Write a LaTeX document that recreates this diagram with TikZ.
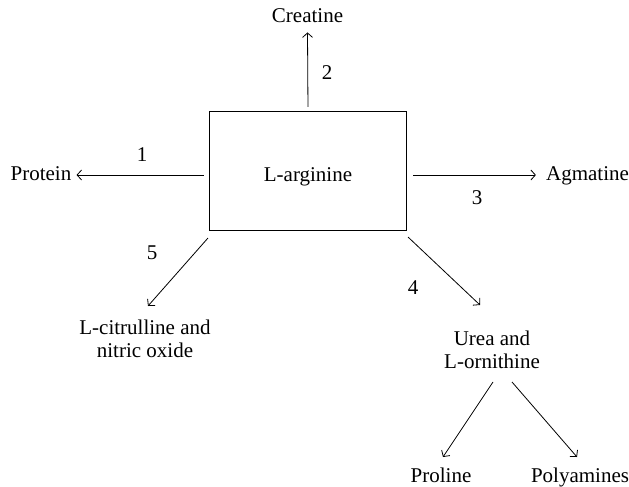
\documentclass[tikz,border=0pt]{standalone}
\usepackage{fontspec}
\setmainfont{Liberation Serif}
\usetikzlibrary{arrows.meta}
\begin{document}
\begin{tikzpicture}[x=1pt,y=-1pt,
  txt/.style={inner sep=0pt, font=\fontsize{21}{23}\selectfont, align=center},
  num/.style={inner sep=0pt, font=\fontsize{21}{23}\selectfont, anchor=base},
  arr/.style={-{Straight Barb[length=4.5pt,width=10pt]}, line width=0.8pt},
  boxst/.style={draw, line width=1.1pt, minimum width=197pt, minimum height=119pt, inner sep=0pt}]
\useasboundingbox (0,0) rectangle (629,487);
% main box
\node[boxst] (box) at (308,171) {};
\node[txt, anchor=base] (arg) at (308,181) {L-arginine};
% products
\node[txt, anchor=base] (crea) at (307.5,23) {Creatine};
\node[txt, anchor=base] (prot) at (41,180) {Protein};
\node[txt, anchor=base] (agm) at (587.5,180) {Agmatine};
\node[txt] (citr) at (145,339) {L-citrulline and\\nitric oxide};
\node[txt] (urea) at (492,350) {Urea and\\L-ornithine};
\node[txt, anchor=base] (prol) at (441,482) {Proline};
\node[txt, anchor=base] (poly) at (580,482) {Polyamines};
% numbers
\node[num] (n1) at (142,161) {1};
\node[num] (n2) at (327,80) {2};
\node[num] (n3) at (477,204) {3};
\node[num] (n4) at (413,294) {4};
\node[num] (n5) at (152,259) {5};
% connector helpers
\coordinate (hl) at (0,175);
\coordinate (e5) at (148,306);
\coordinate (e4) at (480,305);
\coordinate (s6) at (493,382);
\coordinate (s7) at (512,382);
\coordinate (e6) at (443,457);
\coordinate (e7) at (577,457);
% connectors
\draw[arr, shorten <=4pt] (box.north) -- ([yshift=-9pt]crea.south);
\draw[arr] ([xshift=-5pt]box.west |- hl) -- ([xshift=5pt]prot.east |- hl);
\draw[arr] ([xshift=6pt]box.east |- hl) -- ([xshift=-10pt]agm.west |- hl);
\draw[arr] ([shift={(-1pt,-7pt)}]box.south west) -- (e5);
\draw[arr] ([shift={(1pt,-6pt)}]box.south east) -- (e4);
\draw[arr] (s6) -- (e6);
\draw[arr] (s7) -- (e7);
\end{tikzpicture}
\end{document}
